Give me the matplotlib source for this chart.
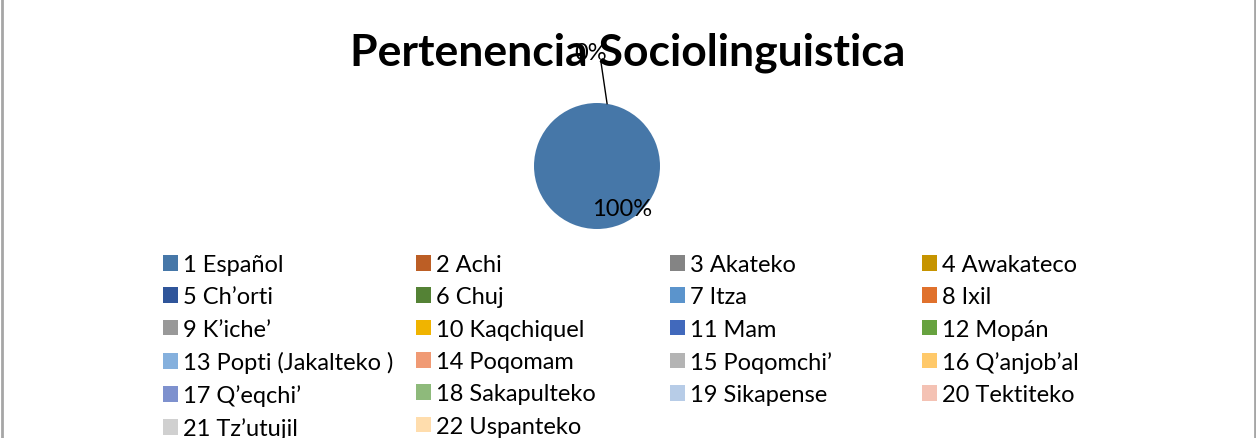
import matplotlib
matplotlib.use("Agg")
import matplotlib.pyplot as plt
from matplotlib.patches import Patch

plt.rcParams['font.family'] = ['Lato', 'DejaVu Sans']

# donnees
langues = ["1 Español", "2 Achi", "3 Akateko", "4 Awakateco", "5 Ch’orti", "6 Chuj",
           "7 Itza", "8 Ixil", "9 K’iche’", "10 Kaqchiquel", "11 Mam", "12 Mopán",
           "13 Popti (Jakalteko )", "14 Poqomam", "15 Poqomchi’", "16 Q’anjob’al",
           "17 Q’eqchi’", "18 Sakapulteko", "19 Sikapense", "20 Tektiteko",
           "21 Tz’utujil", "22 Uspanteko"]
valeurs = [100, 0, 0, 0, 0, 0, 0, 0, 0, 0, 0, 0, 0, 0, 0, 0, 0, 0, 0, 0, 0, 0]
couleurs = ["#4677A8", "#BC5E25", "#848484", "#C69400", "#2F559A", "#548235",
            "#5B94CC", "#E0712C", "#999999", "#F0B400", "#4169BC", "#67A23F",
            "#85B0DD", "#F09A74", "#B4B4B4", "#FFC96A", "#7E91CE", "#8EBA7B",
            "#B7CCE7", "#F4C2B4", "#D0D0D0", "#FFDDAD"]

W, H = 1256, 439
fig = plt.figure(figsize=(W / 100, H / 100), dpi=100)

# bordure grise du graphique
fig.add_artist(plt.Line2D([1.5 / W, 1.5 / W], [0, 1], color="#A6A6A6", lw=2))
fig.add_artist(plt.Line2D([1 - 1.5 / W, 1 - 1.5 / W], [0, 1], color="#A6A6A6", lw=2))

ax = fig.add_axes([534 / W, 1 - 230 / H, 126 / W, 126 / H])
ax.pie(valeurs, colors=couleurs, startangle=90, counterclock=False,
       wedgeprops=dict(linewidth=0))
ax.set_xlim(-1, 1)
ax.set_ylim(-1, 1)
ax.set_aspect("equal")

total = sum(valeurs)
pct = [round(v / total * 100) for v in valeurs]
ax.text(0.40, -0.67, f"{pct[0]}%", ha="center", va="center", fontsize=17, color="black")
# etiquette 0% avec ligne de rappel
ax.plot([0.06, 0.16], [1.67, 0.99], color="black", lw=1, clip_on=False)
ax.text(-0.11, 1.80, f"{pct[1]}%", ha="center", va="center", fontsize=17, color="black")

fig.text(628 / W, 1 - 53 / H, "Pertenencia Sociolinguistica", ha="center", va="center",
         fontsize=32, fontweight="bold", color="black")

# legende en 4 colonnes, remplissage par lignes
xs = [163, 416, 670, 922]
for c in range(4):
    idx = list(range(c, len(langues), 4))
    handles = [Patch(facecolor=couleurs[i], edgecolor="none") for i in idx]
    fig.legend(handles, [langues[i] for i in idx], loc="upper left",
               bbox_to_anchor=(xs[c] / W, 1 - 255 / H), frameon=False,
               fontsize=17, handlelength=0.64, handleheight=0.64,
               handletextpad=0.2, labelspacing=0.48, borderpad=0, borderaxespad=0)

fig.savefig("out.png", dpi=100)
